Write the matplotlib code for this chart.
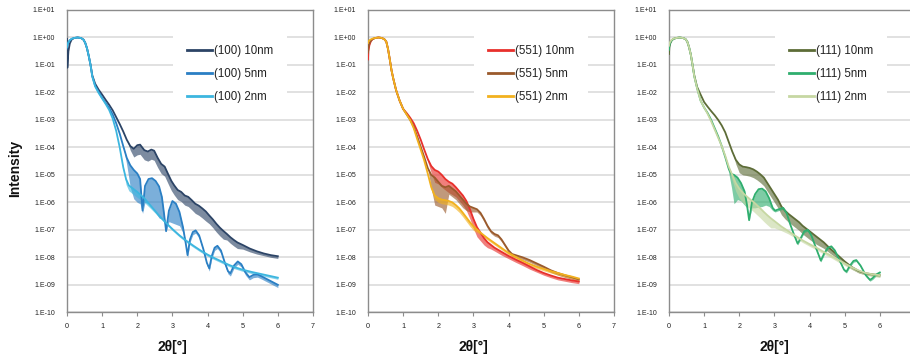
import numpy as np
import matplotlib
matplotlib.use("Agg")
import matplotlib.pyplot as plt
import matplotlib.transforms as mtransforms

plt.rcParams['font.family'] = ['Liberation Sans', 'DejaVu Sans']

# ---------------- data (2theta in degrees, log10 intensity, fringe depth in decades) -------------
X_HEAD = [0.0, 0.01, 0.04, 0.08, 0.13, 0.2, 0.3, 0.4, 0.47, 0.52, 0.57, 0.62, 0.67, 0.72, 0.8, 0.9]

# ---- panel (100)
x_100_10 = X_HEAD + [1.0, 1.1, 1.2, 1.3, 1.4, 1.5, 1.6, 1.7, 1.8, 1.9, 2.0, 2.08, 2.2, 2.3, 2.4, 2.48,
                     2.58, 2.68, 2.78, 2.88, 2.97, 3.05, 3.15, 3.25, 3.35, 3.45, 3.55, 3.65, 3.75, 3.85,
                     3.95, 4.05, 4.15, 4.25, 4.35, 4.45, 4.55, 4.65, 4.75, 4.85, 5.0, 5.2, 5.4, 5.6, 5.8, 6.0]
logI_100_10 = [-0.05, -1.1, -0.5, -0.22, -0.08, -0.02, 0.0, -0.02, -0.08, -0.2, -0.4, -0.68, -1.0, -1.38, -1.68, -1.9,
               -2.08, -2.27, -2.45, -2.65, -2.9, -3.15, -3.42, -3.72, -3.95, -4.05, -3.92, -3.9, -4.1, -4.15, -4.08, -4.12,
               -4.38, -4.6, -4.7, -4.98, -5.22, -5.38, -5.55, -5.62, -5.75, -5.8, -5.92, -6.05, -6.12, -6.22,
               -6.33, -6.48, -6.62, -6.78, -6.92, -7.04, -7.15, -7.27, -7.37, -7.46, -7.55, -7.68, -7.78, -7.86, -7.92, -7.96]
depth_100_10 = [0, 0, 0, 0, 0, 0, 0, 0, 0, 0, 0, 0, 0, 0, 0, 0,
                0, 0, 0, 0, 0, 0, 0, 0, 0.15, 0.3, 0.35, 0.35, 0.35, 0.35, 0.35, 0.35,
                0.35, 0.35, 0.35, 0.35, 0.35, 0.35, 0.35, 0.35, 0.35, 0.35, 0.35, 0.35, 0.35, 0.35,
                0.35, 0.3, 0.3, 0.3, 0.3, 0.3, 0.22, 0.22, 0.22, 0.22, 0.15, 0.12, 0.1, 0.08, 0.08, 0.08]

x_100_5 = X_HEAD + [1.0, 1.1, 1.2, 1.3, 1.4, 1.5, 1.6, 1.7, 1.8, 1.9, 2.0, 2.08, 2.15, 2.22, 2.32, 2.42, 2.52,
                    2.62, 2.7, 2.76, 2.82, 2.9, 3.0, 3.1, 3.2, 3.3, 3.38, 3.43, 3.5, 3.58, 3.66, 3.76, 3.88,
                    3.98, 4.05, 4.12, 4.2, 4.28, 4.38, 4.48, 4.58, 4.65, 4.75, 4.86, 4.96, 5.08, 5.19, 5.3,
                    5.42, 5.55, 5.7, 5.85, 6.0]
logI_100_5 = [-0.4, -0.3, -0.18, -0.1, -0.05, -0.02, 0.0, -0.02, -0.08, -0.2, -0.4, -0.68, -1.0, -1.42, -1.75, -1.98,
              -2.2, -2.38, -2.56, -2.8, -3.12, -3.5, -3.95, -4.38, -4.65, -4.82, -4.95, -5.15, -6.3, -5.4, -5.15, -5.12, -5.22,
              -5.42, -5.8, -6.4, -7.05, -6.3, -5.95, -6.05, -6.35, -6.9, -7.5, -7.92, -7.35, -7.08, -7.02, -7.2, -7.7,
              -8.2, -8.4, -7.95, -7.65, -7.58, -7.75, -8.15, -8.5, -8.58, -8.3, -8.15, -8.25, -8.55, -8.72, -8.64,
              -8.62, -8.7, -8.8, -8.9, -9.0]
depth_100_5 = [0, 0, 0, 0, 0, 0, 0, 0, 0, 0, 0, 0, 0, 0, 0, 0,
               0, 0, 0, 0, 0, 0, 0, 0.25, 0.8, 1.05, 1.05, 0.9, 0.1, 0.6, 0.9, 1.05, 1.15,
               1.15, 0.8, 0.3, 0.0, 0.4, 0.8, 0.75, 0.5, 0.2, 0.05, 0.1, 0.1, 0.1, 0.1, 0.1, 0.1,
               0.1, 0.1, 0.1, 0.1, 0.1, 0.1, 0.1, 0.1, 0.1, 0.1, 0.1, 0.1, 0.1, 0.1, 0.1,
               0.1, 0.1, 0.1, 0.1, 0.1]

x_100_2 = X_HEAD + [1.0, 1.1, 1.2, 1.3, 1.4, 1.5, 1.6, 1.68, 1.76, 1.9, 2.0, 2.2, 2.4, 2.6, 2.8, 3.0, 3.2,
                    3.4, 3.6, 3.8, 4.0, 4.2, 4.4, 4.6, 4.8, 5.0, 5.25, 5.5, 5.75, 6.0]
logI_100_2 = [-0.35, -0.28, -0.17, -0.1, -0.05, -0.02, 0.0, -0.02, -0.08, -0.2, -0.4, -0.68, -1.0, -1.42, -1.78, -2.02,
              -2.22, -2.42, -2.64, -2.95, -3.4, -4.0, -4.72, -5.15, -5.38, -5.52, -5.62, -5.85, -6.15, -6.45, -6.72, -6.97, -7.2,
              -7.4, -7.58, -7.75, -7.9, -8.03, -8.15, -8.27, -8.37, -8.45, -8.53, -8.6, -8.67, -8.74]
depth_100_2 = [0, 0, 0, 0, 0, 0, 0, 0, 0, 0, 0, 0, 0, 0, 0, 0,
               0, 0, 0, 0, 0, 0, 0.1, 0.2, 0.2, 0.2, 0.2, 0.15, 0.1, 0.06, 0.06, 0.06, 0.06,
               0.06, 0.06, 0.06, 0.06, 0.06, 0.06, 0.06, 0.06, 0.06, 0.06, 0.06, 0.06, 0.06]

# ---- panel (551)
x_551_10 = X_HEAD + [1.0, 1.1, 1.2, 1.3, 1.4, 1.5, 1.6, 1.7, 1.8, 1.9, 2.0, 2.1, 2.2, 2.3, 2.4, 2.5, 2.6, 2.7,
                     2.8, 2.9, 3.0, 3.1, 3.2, 3.3, 3.4, 3.5, 3.6, 3.8, 4.0, 4.2, 4.4, 4.6, 4.8, 5.0, 5.2, 5.4,
                     5.6, 5.8, 6.0]
logI_551_10 = [-0.8, -0.5, -0.28, -0.14, -0.06, -0.02, 0.0, -0.02, -0.07, -0.15, -0.42, -0.8, -1.2, -1.5, -1.92, -2.3,
               -2.6, -2.75, -2.92, -3.12, -3.4, -3.72, -4.08, -4.42, -4.68, -4.82, -4.88, -5.0, -5.15, -5.25, -5.32,
               -5.45, -5.6, -5.75, -5.95, -6.25, -6.6, -6.9, -7.1, -7.3, -7.45, -7.55, -7.65, -7.8, -7.95, -8.08,
               -8.2, -8.33, -8.46, -8.57, -8.66, -8.74, -8.79, -8.84, -8.88]
depth_551_10 = [0, 0, 0, 0, 0, 0, 0, 0, 0, 0, 0, 0, 0, 0, 0, 0,
                0, 0, 0, 0, 0, 0, 0, 0.1, 0.25, 0.45, 0.45, 0.45, 0.4, 0.4, 0.4, 0.35, 0.35, 0.35, 0.35,
                0.35, 0.35, 0.35, 0.3, 0.25, 0.2, 0.15, 0.12, 0.12, 0.1, 0.1, 0.1, 0.1, 0.08, 0.08, 0.08,
                0.08, 0.08, 0.08, 0.08]

x_551_5 = X_HEAD + [1.0, 1.1, 1.2, 1.3, 1.4, 1.5, 1.6, 1.7, 1.8, 1.9, 2.0, 2.1, 2.2, 2.3, 2.4, 2.5, 2.6, 2.7,
                    2.8, 2.9, 3.0, 3.1, 3.2, 3.3, 3.4, 3.5, 3.6, 3.7, 3.8, 3.9, 4.0, 4.1, 4.2, 4.4, 4.6, 4.8,
                    5.0, 5.2, 5.4, 5.6, 5.8, 6.0]
logI_551_5 = [-0.55, -0.4, -0.22, -0.12, -0.06, -0.02, 0.0, -0.02, -0.07, -0.15, -0.42, -0.8, -1.2, -1.5, -1.92, -2.3,
              -2.6, -2.8, -3.0, -3.25, -3.6, -3.98, -4.35, -4.75, -5.0, -5.1, -5.25, -5.4, -5.45, -5.4, -5.5, -5.6,
              -5.75, -5.9, -6.05, -6.15, -6.2, -6.25, -6.38, -6.6, -6.85, -7.05, -7.15, -7.2, -7.35, -7.55, -7.75,
              -7.88, -7.92, -8.0, -8.1, -8.22, -8.34, -8.47, -8.57, -8.65, -8.72, -8.8]
depth_551_5 = [0, 0, 0, 0, 0, 0, 0, 0, 0, 0, 0, 0, 0, 0, 0, 0,
               0, 0, 0, 0, 0, 0, 0, 0, 0.5, 1.0, 0.9, 0.8, 0.95, 0.3, 0.3, 0.3, 0.3, 0.3, 0.25, 0.2, 0.15,
               0.1, 0.1, 0.1, 0.1, 0.08, 0.08, 0.08, 0.08, 0.08, 0.08, 0.08, 0.08, 0.08, 0.08, 0.08, 0.08,
               0.08, 0.08, 0.08, 0.08, 0.08]

x_551_2 = X_HEAD + [1.0, 1.1, 1.2, 1.3, 1.4, 1.5, 1.6, 1.7, 1.8, 1.9, 2.0, 2.1, 2.2, 2.3, 2.4, 2.5, 2.6, 2.7,
                    2.8, 2.9, 3.0, 3.2, 3.4, 3.6, 3.8, 4.0, 4.2, 4.4, 4.6, 4.8, 5.0, 5.2, 5.4, 5.6, 5.8, 6.0]
logI_551_2 = [-0.2, -0.15, -0.1, -0.07, -0.04, -0.02, 0.0, -0.02, -0.07, -0.15, -0.42, -0.8, -1.2, -1.5, -1.92, -2.3,
              -2.6, -2.8, -3.0, -3.3, -3.7, -4.08, -4.48, -4.95, -5.45, -5.75, -5.85, -5.9, -5.92, -5.95, -6.0,
              -6.1, -6.22, -6.38, -6.55, -6.72, -6.87, -7.1, -7.3, -7.48, -7.66, -7.84, -7.98, -8.12, -8.24,
              -8.34, -8.42, -8.5, -8.57, -8.64, -8.7, -8.77]
depth_551_2 = [0, 0, 0, 0, 0, 0, 0, 0, 0, 0, 0, 0, 0, 0, 0, 0,
               0, 0, 0, 0, 0, 0, 0, 0, 0.1, 0.15, 0.15, 0.15, 0.15, 0.15, 0.15, 0.15, 0.15, 0.15, 0.15,
               0.15, 0.15, 0.07, 0.07, 0.07, 0.07, 0.07, 0.07, 0.07, 0.07, 0.07, 0.07, 0.07, 0.07, 0.07,
               0.07, 0.07]

# ---- panel (111)
x_111_10 = X_HEAD + [1.0, 1.1, 1.2, 1.3, 1.4, 1.5, 1.6, 1.7, 1.8, 1.9, 2.0, 2.1, 2.2, 2.3, 2.4, 2.5, 2.6, 2.7,
                     2.8, 2.9, 3.0, 3.1, 3.2, 3.3, 3.4, 3.5, 3.6, 3.7, 3.8, 3.9, 4.0, 4.2, 4.4, 4.6, 4.8, 5.0,
                     5.2, 5.4, 5.6, 5.8, 6.0]
logI_111_10 = [-0.6, -0.35, -0.2, -0.1, -0.05, -0.02, 0.0, -0.02, -0.06, -0.15, -0.35, -0.62, -1.0, -1.38, -1.8, -2.08,
               -2.35, -2.52, -2.68, -2.83, -3.0, -3.2, -3.45, -3.8, -4.15, -4.45, -4.62, -4.7, -4.72, -4.75, -4.8,
               -4.88, -4.98, -5.1, -5.3, -5.5, -5.7, -5.9, -6.15, -6.3, -6.42, -6.52, -6.62, -6.72, -6.85, -6.95,
               -7.05, -7.25, -7.45, -7.7, -7.92, -8.15, -8.35, -8.5, -8.58, -8.62, -8.65]
depth_111_10 = [0, 0, 0, 0, 0, 0, 0, 0, 0, 0, 0, 0, 0, 0, 0, 0,
                0, 0, 0, 0, 0, 0, 0, 0, 0, 0.15, 0.3, 0.3, 0.3, 0.3, 0.3, 0.3, 0.3, 0.3, 0.3, 0.3, 0.3,
                0.3, 0.3, 0.3, 0.3, 0.3, 0.3, 0.3, 0.3, 0.3, 0.3, 0.28, 0.22, 0.17, 0.13, 0.1, 0.08, 0.07,
                0.06, 0.06, 0.06]

x_111_5 = X_HEAD + [1.0, 1.1, 1.2, 1.3, 1.4, 1.5, 1.6, 1.7, 1.78, 1.85, 1.95, 2.05, 2.15, 2.22, 2.28, 2.36,
                    2.45, 2.55, 2.65, 2.75, 2.85, 2.95, 3.02, 3.12, 3.25, 3.35, 3.45, 3.55, 3.66, 3.75, 3.85,
                    3.95, 4.05, 4.18, 4.32, 4.42, 4.52, 4.62, 4.72, 4.85, 4.98, 5.05, 5.15, 5.25, 5.33, 5.45,
                    5.6, 5.72, 5.8, 5.9, 6.0]
logI_111_5 = [-0.45, -0.3, -0.18, -0.1, -0.05, -0.02, 0.0, -0.02, -0.06, -0.15, -0.35, -0.62, -1.0, -1.42, -1.85, -2.3,
              -2.55, -2.75, -3.0, -3.3, -3.6, -3.95, -4.35, -4.78, -4.97, -5.0, -5.1, -5.3, -5.6, -6.1, -6.65, -6.0,
              -5.7, -5.52, -5.5, -5.6, -5.85, -6.2, -6.3, -6.25, -6.2, -6.4, -6.8, -7.15, -7.5, -7.3, -7.05,
              -7.0, -7.2, -7.65, -8.12, -7.85, -7.65, -7.6, -7.75, -8.1, -8.45, -8.52, -8.3, -8.13, -8.1, -8.3,
              -8.65, -8.82, -8.75, -8.62, -8.55]
depth_111_5 = [0, 0, 0, 0, 0, 0, 0, 0, 0, 0, 0, 0, 0, 0, 0, 0,
               0, 0, 0, 0, 0, 0, 0, 0.15, 0.5, 1.05, 0.8, 0.65, 0.5, 0.1, 0.0, 0.2,
               0.5, 0.65, 0.65, 0.5, 0.3, 0.1, 0.05, 0.05, 0.05, 0.05, 0.05, 0.05, 0.05, 0.05, 0.05,
               0.05, 0.05, 0.05, 0.05, 0.05, 0.05, 0.05, 0.05, 0.05, 0.05, 0.05, 0.05, 0.05, 0.05, 0.05,
               0.05, 0.05, 0.05, 0.05, 0.05]

x_111_2 = X_HEAD + [1.0, 1.1, 1.2, 1.3, 1.4, 1.5, 1.6, 1.7, 1.8, 1.9, 2.0, 2.1, 2.2, 2.3, 2.4, 2.5, 2.6, 2.7,
                    2.8, 2.9, 3.0, 3.2, 3.4, 3.6, 3.8, 4.0, 4.2, 4.4, 4.6, 4.8, 5.0, 5.2, 5.4, 5.6, 5.8, 6.0]
logI_111_2 = [-0.3, -0.22, -0.14, -0.08, -0.04, -0.02, 0.0, -0.02, -0.06, -0.15, -0.35, -0.62, -1.0, -1.42, -1.85, -2.3,
              -2.55, -2.78, -3.05, -3.35, -3.65, -3.95, -4.3, -4.7, -5.0, -5.3, -5.5, -5.65, -5.77, -5.88, -5.98,
              -6.1, -6.22, -6.35, -6.47, -6.58, -6.68, -6.88, -7.05, -7.22, -7.38, -7.52, -7.65, -7.8, -7.93,
              -8.08, -8.22, -8.36, -8.48, -8.57, -8.62, -8.65]
depth_111_2 = [0, 0, 0, 0, 0, 0, 0, 0, 0, 0, 0, 0, 0, 0, 0, 0,
               0, 0, 0, 0, 0, 0, 0, 0, 0.2, 0.3, 0.35, 0.35, 0.35, 0.35, 0.35, 0.35, 0.35, 0.35, 0.35, 0.35,
               0.25, 0.15, 0.1, 0.08, 0.08, 0.08, 0.08, 0.08, 0.08, 0.08, 0.08, 0.08, 0.08, 0.08, 0.08, 0.08]

labels_100 = ["(100) 10nm", "(100) 5nm", "(100) 2nm"]
labels_551 = ["(551) 10nm", "(551) 5nm", "(551) 2nm"]
labels_111 = ["(111) 10nm", "(111) 5nm", "(111) 2nm"]

y_tick_exponents = list(range(-10, 2))
x_ticks = [0, 1, 2, 3, 4, 5, 6, 7]

# ---------------- styling ----------------
colors_100 = ["#2C4466", "#2A7FC4", "#3CB6DF"]
colors_551 = ["#E8302C", "#9A5A2C", "#F2B11E"]
colors_111 = ["#5D6C37", "#2FAE6E", "#C6D7A2"]

panels = [
    (67, [(x_100_10, logI_100_10, depth_100_10), (x_100_5, logI_100_5, depth_100_5),
          (x_100_2, logI_100_2, depth_100_2)], labels_100, colors_100),
    (368, [(x_551_10, logI_551_10, depth_551_10), (x_551_5, logI_551_5, depth_551_5),
           (x_551_2, logI_551_2, depth_551_2)], labels_551, colors_551),
    (669, [(x_111_10, logI_111_10, depth_111_10), (x_111_5, logI_111_5, depth_111_5),
           (x_111_2, logI_111_2, depth_111_2)], labels_111, colors_111),
]

W, H = 910, 358
fig = plt.figure(figsize=(W / 100, H / 100), dpi=100)
fig.patch.set_facecolor("white")

ax_w, ax_top, ax_bot = 246, 10, 312.3
spine_col = "#8C8C8C"

for i, (left, series, labels, cols) in enumerate(panels):
    ax = fig.add_axes([left / W, (H - ax_bot) / H, ax_w / W, (ax_bot - ax_top) / H])
    ax.set_yscale("log")
    ax.set_ylim(1e-10, 1e1)
    ax.set_xlim(0, 7)
    for (xs, ls, ds), lab, c in zip(series, labels, cols):
        xs = np.asarray(xs)
        ls = np.asarray(ls)
        ds = np.asarray(ds)
        hi = 10.0 ** ls
        lo = 10.0 ** (ls - ds)
        ax.fill_between(xs, lo, hi, color=c, alpha=0.62, lw=0, zorder=2)
        ax.plot(xs, hi, color=c, lw=1.3, label=lab, zorder=3)
    ax.set_yticks([10.0 ** e for e in y_tick_exponents])
    ax.set_yticklabels([f"1.E{e:+03d}" for e in y_tick_exponents])
    ax.yaxis.set_minor_locator(matplotlib.ticker.NullLocator())
    ax.set_xticks(x_ticks)
    # the last panel's "7" lies beyond the picture's right edge in the reference
    ax.set_xticklabels([str(t) if (i < 2 or t < 7) else "" for t in x_ticks])
    ax.grid(axis="y", color="#D9D9D9", lw=1.1, zorder=0)
    ax.grid(axis="x", visible=False)
    ax.set_axisbelow(True)
    for sp in ax.spines.values():
        sp.set_color(spine_col)
        sp.set_linewidth(1.0)
    ax.tick_params(axis="y", length=0, pad=8.5, labelsize=5, labelcolor="#222222")
    ax.tick_params(axis="x", length=3, width=0.8, color=spine_col, direction="out", pad=5,
                   labelsize=5.2, labelcolor="#222222")
    leg = ax.legend(loc="upper left", bbox_to_anchor=((173 - 67) / ax_w, (ax_bot - 31) / (ax_bot - ax_top)),
                    frameon=True, facecolor="white", edgecolor="none", fancybox=False, framealpha=1,
                    fontsize=8.3, handlelength=2.2, handletextpad=0.15, labelspacing=0.95,
                    borderpad=1.2, borderaxespad=0)
    leg.set_zorder(5)
    for ln in leg.get_lines():
        ln.set_linewidth(2.0)
    for t in leg.get_texts():
        t.set_color("#222222")
    trans = mtransforms.blended_transform_factory(ax.transData, fig.transFigure)
    ax.text(3, 1 - 347 / H, "2θ[°]", transform=trans, ha="center", va="center",
            fontsize=10, fontweight="bold", color="#111111", clip_on=False)

fig.text(15 / W, 1 - 168 / H, "Intensity", rotation=90, ha="center", va="center",
         fontsize=10, fontweight="bold", color="#111111")

fig.savefig("out.png", dpi=100, facecolor="white")
